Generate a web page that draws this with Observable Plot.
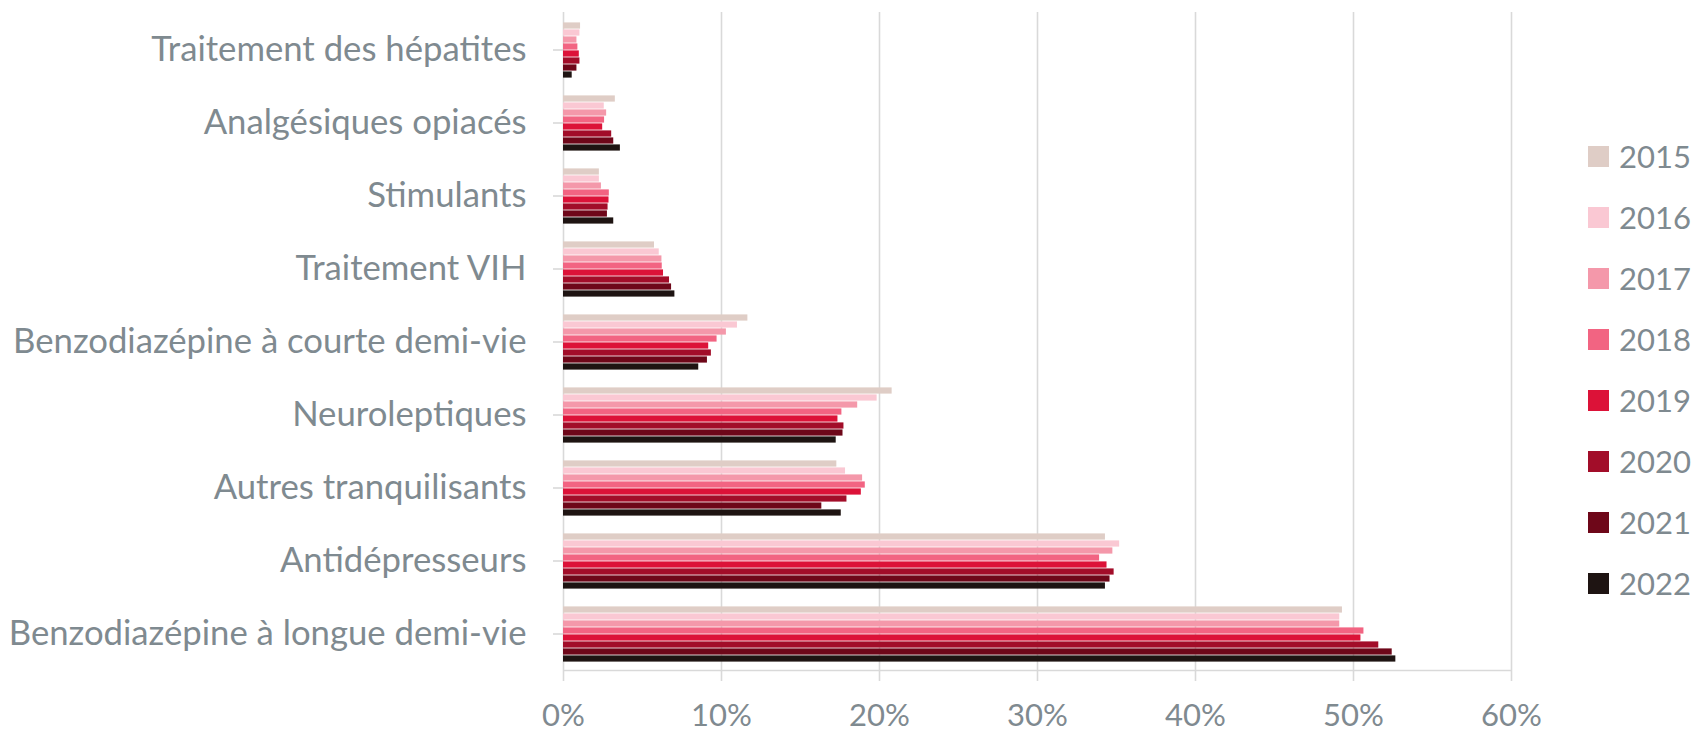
<!DOCTYPE html>
<html>
<head>
<meta charset="utf-8">
<script src="https://cdn.jsdelivr.net/npm/d3@7"></script>
<script src="https://cdn.jsdelivr.net/npm/@observablehq/plot@0.6"></script>
<style>
  html, body { margin: 0; padding: 0; background: #ffffff; }
  #wrap { position: relative; width: 1698px; height: 733px; overflow: hidden; font-family: Lato, "Noto Sans", sans-serif; }
  #wrap svg { position: absolute; left: 0; top: 0; }
  #legend { position: absolute; left: 1588px; top: 126px; }
  .row { display: flex; align-items: center; height: 61px; }
  .sw { width: 21px; height: 21px; margin-right: 10px; }
  .lab { color: #7f8a90; line-height: 1; }
</style>
</head>
<body>
<div id="wrap"><div id="legend"></div></div>
<script>
// ---- data ----
const categories = [
  "Traitement des hépatites",
  "Analgésiques opiacés",
  "Stimulants",
  "Traitement VIH",
  "Benzodiazépine à courte demi-vie",
  "Neuroleptiques",
  "Autres tranquilisants",
  "Antidépresseurs",
  "Benzodiazépine à longue demi-vie"
];
const years = ["2015", "2016", "2017", "2018", "2019", "2020", "2021", "2022"];
const colors = ["#dfcdc6", "#fac8d3", "#f498aa", "#f26482", "#dc1238", "#a20d29", "#6e0719", "#1e1412"];
const xTicks = [0, 10, 20, 30, 40, 50, 60];

// values in % for 2015..2022
const hepatites       = [1.08, 1.04, 0.85, 0.91, 1.00, 1.04, 0.85, 0.55];
const opiaces         = [3.28, 2.58, 2.73, 2.60, 2.48, 3.05, 3.18, 3.60];
const stimulants      = [2.27, 2.27, 2.40, 2.90, 2.88, 2.82, 2.78, 3.18];
const vih             = [5.76, 6.06, 6.23, 6.25, 6.33, 6.71, 6.84, 7.05];
const benzoCourte     = [11.67, 11.01, 10.31, 9.72, 9.19, 9.36, 9.11, 8.56];
const neuroleptiques  = [20.80, 19.85, 18.62, 17.62, 17.37, 17.75, 17.69, 17.26];
const autresTranq     = [17.30, 17.85, 18.93, 19.10, 18.85, 17.94, 16.35, 17.58];
const antidepresseurs = [34.30, 35.20, 34.77, 33.93, 34.40, 34.85, 34.59, 34.30];
const benzoLongue     = [49.30, 49.13, 49.13, 50.66, 50.47, 51.60, 52.45, 52.68];

const seriesByCategory = [hepatites, opiaces, stimulants, vih, benzoCourte, neuroleptiques, autresTranq, antidepresseurs, benzoLongue];

const data = [];
categories.forEach((c, i) => {
  years.forEach((y, j) => data.push({category: c, year: y, value: seriesByCategory[i][j]}));
});

// ---- styling ----
const textColor = "#7f8a90";
const gridColor = "#d9d9d9";
const family = "Lato";
function fitSize(text, target) {
  const ctx = document.createElement("canvas").getContext("2d");
  ctx.font = `100px ${family}`;
  return 100 * target / ctx.measureText(text).width;
}
const labelSize = fitSize("Benzodiazépine à longue demi-vie", 518);
const numSize = fitSize("2015", 72);

const W = 1698, H = 733;
const margins = {marginLeft: 563, marginRight: 187, marginTop: 12, marginBottom: 63};

const back = Plot.plot({
  width: W, height: H, ...margins,
  style: {background: "transparent", fontFamily: family, overflow: "visible"},
  x: {domain: [0, 60], axis: null},
  y: {domain: [0, 1], axis: null},
  marks: [
    Plot.gridX(xTicks, {stroke: gridColor, strokeOpacity: 1, strokeWidth: 1.6}),
    Plot.ruleY([0], {stroke: gridColor, strokeWidth: 1.6}),
    Plot.axisX(xTicks, {
      tickSize: 11, tickPadding: 22, stroke: gridColor, strokeWidth: 1.6,
      fill: textColor, fontSize: numSize, tickFormat: d => d + "%", label: null
    })
  ]
});

const front = Plot.plot({
  width: W, height: H, ...margins,
  style: {background: "transparent", fontFamily: family, overflow: "visible"},
  x: {domain: [0, 60], axis: null},
  y: {domain: years, axis: null, padding: 0},
  fy: {domain: categories, paddingInner: 0.165, paddingOuter: 0.082, axis: null, label: null},
  color: {domain: years, range: colors},
  marks: [
    Plot.barX(data, {x: "value", y: "year", fy: "category", fill: "year", insetTop: 0.4, insetBottom: 0.4}),
    Plot.axisFy({
      anchor: "left", tickSize: 10, tickPadding: 27, stroke: gridColor, strokeWidth: 1.6,
      fill: textColor, fontSize: labelSize, label: null
    })
  ]
});

const wrap = document.getElementById("wrap");
wrap.insertBefore(back, wrap.firstChild);
wrap.insertBefore(front, document.getElementById("legend"));

const legend = document.getElementById("legend");
years.forEach((y, i) => {
  const row = document.createElement("div");
  row.className = "row";
  const sw = document.createElement("div");
  sw.className = "sw";
  sw.style.background = colors[i];
  const lab = document.createElement("span");
  lab.className = "lab";
  lab.style.fontSize = numSize + "px";
  lab.textContent = y;
  row.appendChild(sw);
  row.appendChild(lab);
  legend.appendChild(row);
});
</script>
</body>
</html>
